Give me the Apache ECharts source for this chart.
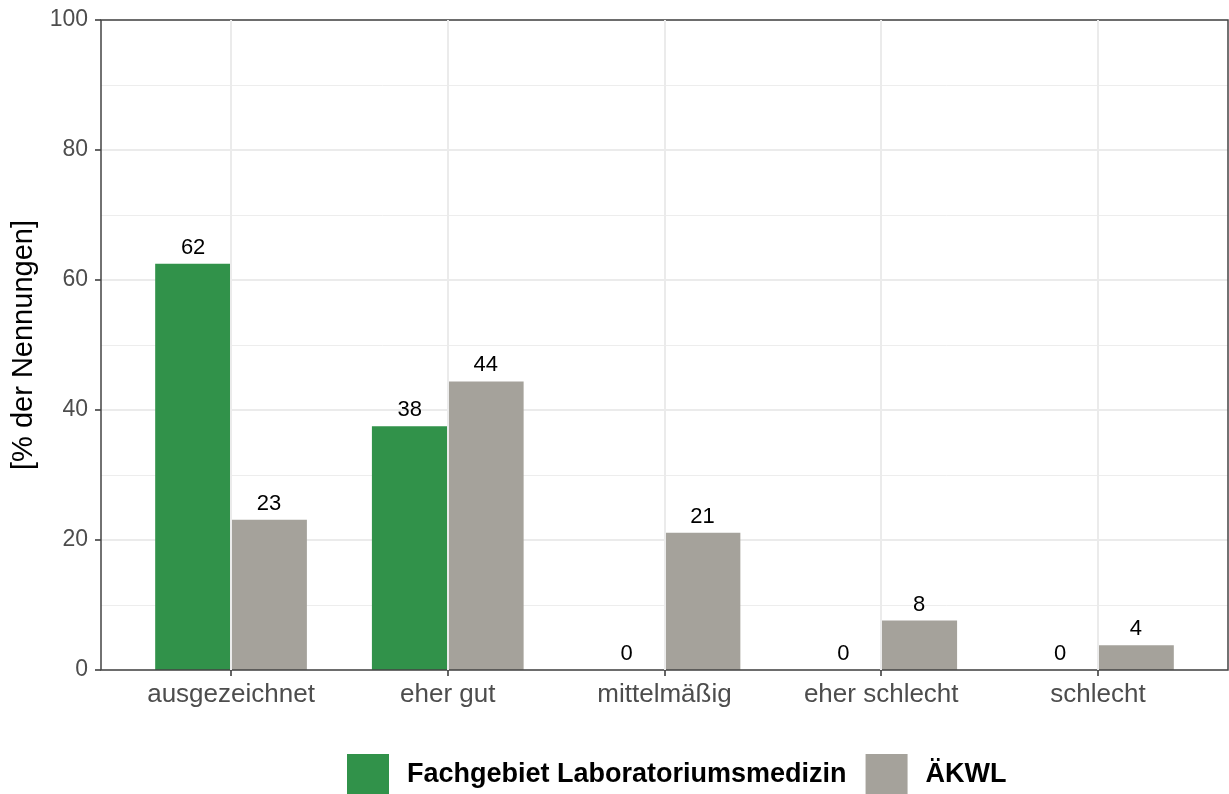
<!DOCTYPE html>
<html>
<head>
<meta charset="utf-8">
<script src="https://cdn.jsdelivr.net/npm/echarts@6/dist/echarts.min.js"></script>
<style>
  html, body { margin: 0; padding: 0; background: #fff; }
  #chart { width: 1229px; height: 794px; }
</style>
</head>
<body>
<div id="chart"></div>
<script>
// Kategorien und Werte (% der Nennungen)
const categories = ['ausgezeichnet', 'eher gut', 'mittelmäßig', 'eher schlecht', 'schlecht'];
const seriesNames = ['Fachgebiet Laboratoriumsmedizin', 'ÄKWL'];
const laborValues = [62.5, 37.5, 0, 0, 0];
const laborLabels = ['62', '38', '0', '0', '0'];
const aekwlValues = [23.1, 44.4, 21.1, 7.6, 3.8];
const aekwlLabels = ['23', '44', '21', '8', '4'];
const yTicks = [0, 20, 40, 60, 80, 100];

const fontFamily = '"Liberation Sans", Arial, sans-serif';

// Panel wie ggplot: 0.6 Einheiten Rand links/rechts
const panelLeft = 101, panelWidth = 1127, panelTop = 20, panelHeight = 650;
const unit = panelWidth / (categories.length + 0.2);
const innerLeft = panelLeft + 0.1 * unit;
const innerWidth = unit * categories.length;

const chart = echarts.init(document.getElementById('chart'));

function barSeries(name, values, labels, color) {
  return {
    name: name,
    type: 'bar',
    xAxisIndex: 1,
    yAxisIndex: 1,
    barWidth: unit * 0.35,
    barGap: '0%',
    itemStyle: { color: color },
    label: {
      show: true,
      position: 'top',
      distance: 5,
      fontSize: 22,
      color: '#000',
      fontFamily: fontFamily,
      formatter: (p) => labels[p.dataIndex]
    },
    data: values,
    z: 3
  };
}

const option = {
  animation: false,
  textStyle: { fontFamily: fontFamily },
  grid: [
    {
      left: panelLeft, top: panelTop, width: panelWidth, height: panelHeight,
      show: true, borderColor: '#444', borderWidth: 1.5, backgroundColor: 'transparent', z: 5
    },
    {
      left: innerLeft, top: panelTop, width: innerWidth, height: panelHeight
    }
  ],
  legend: {
    data: seriesNames,
    left: 342,
    top: 749,
    icon: 'rect',
    itemWidth: 42,
    itemHeight: 42,
    itemGap: 19,
    textStyle: {
      fontSize: 27,
      fontWeight: 'bold',
      color: '#000',
      fontFamily: fontFamily,
      padding: [0, 0, 0, 13]
    }
  },
  xAxis: [
    { type: 'value', gridIndex: 0, show: false, min: 0, max: 1 },
    {
      type: 'category',
      gridIndex: 1,
      data: categories,
      axisLine: { show: false },
      axisTick: { show: true, interval: 0, alignWithLabel: true, length: 6, lineStyle: { color: '#333', width: 1.5 } },
      axisLabel: { interval: 0, hideOverlap: false, fontSize: 26, color: '#4d4d4d', margin: 12 },
      splitLine: { show: false }
    }
  ],
  yAxis: [
    {
      type: 'value',
      gridIndex: 0,
      min: yTicks[0],
      max: yTicks[yTicks.length - 1],
      interval: 20,
      name: '[% der Nennungen]',
      nameLocation: 'middle',
      nameRotate: 90,
      nameGap: 60,
      nameTextStyle: { fontSize: 29, color: '#000' },
      axisLine: { show: false },
      axisTick: { show: true, length: 6, lineStyle: { color: '#333', width: 1.5 } },
      axisLabel: { fontSize: 23, color: '#4d4d4d', margin: 13 },
      splitLine: { show: true, lineStyle: { color: '#ebebeb', width: 2 } },
      minorTick: { show: false, splitNumber: 2 },
      minorSplitLine: { show: true, lineStyle: { color: '#ededed', width: 1 } }
    },
    { type: 'value', gridIndex: 1, show: false, min: 0, max: 100 }
  ],
  series: [
    {
      // vertikale Gitterlinien an den Kategorien
      type: 'line',
      xAxisIndex: 1,
      yAxisIndex: 1,
      data: [],
      z: 1,
      silent: true,
      markLine: {
        silent: true,
        symbol: 'none',
        label: { show: false },
        lineStyle: { color: '#ebebeb', width: 2, type: 'solid' },
        data: categories.map(c => ({ xAxis: c }))
      }
    },
    barSeries(seriesNames[0], laborValues, laborLabels, '#31924A'),
    barSeries(seriesNames[1], aekwlValues, aekwlLabels, '#A5A29B')
  ]
};

chart.setOption(option);
</script>
</body>
</html>
